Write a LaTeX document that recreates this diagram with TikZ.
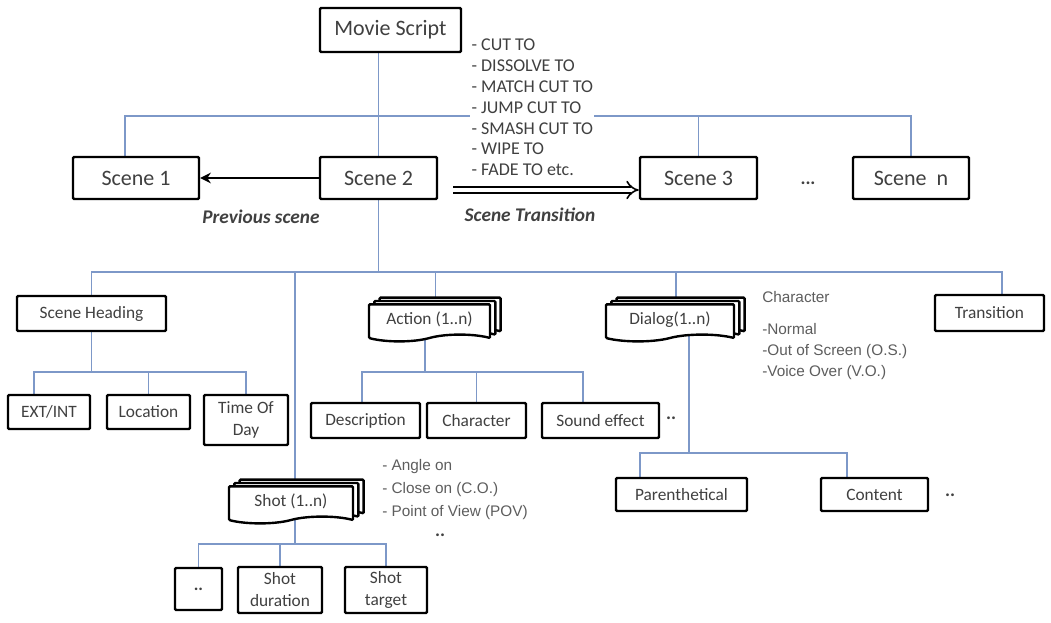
\documentclass[tikz,border=0pt]{standalone}
\usepackage{fontspec}
\setmainfont{Carlito}
\newfontfamily\arialfont{Liberation Sans}
\usetikzlibrary{arrows.meta,shapes.symbols,shadows,backgrounds}
\definecolor{lnkc}{RGB}{125,152,200}
\definecolor{txt}{RGB}{64,64,64}
\tikzset{
  bx/.style={rectangle,draw=black,fill=white,line width=1.8pt,rounded corners=.8pt,text=txt,
    font=\fontsize{13}{16.5}\selectfont,inner sep=2pt,align=center},
  bxl/.style={bx,font=\fontsize{16.5}{19}\selectfont},
  % a stack of cards: the front one has a wavy lower edge
  stk/.style={bx,shape=tape,tape bend top=none,tape bend bottom=in and out,tape bend height=5pt,
    double copy shadow={shadow xshift=4pt,shadow yshift=2.5pt}},
  lnk/.style={draw=lnkc,line width=.9pt},
  bck/.style={-{Stealth[length=8pt,width=8pt]},line width=1.5pt,draw=black},
  trn/.style={draw=black,double=white,double distance=3.6pt,line width=1.2pt,-{Implies}},
  cl/.style={font=\fontsize{13.5}{15.6}\selectfont,text=txt,align=left,inner sep=1pt},
  al/.style={font=\arialfont\fontsize{11.5}{15.75}\selectfont,text=txt!85,align=left,inner sep=0pt},
  tb/.style={font=\fontsize{14.5}{17}\selectfont\bfseries\itshape,text=txt},
  dt/.style={font=\fontsize{14}{15}\selectfont\bfseries,text=txt},
}

\begin{document}
\begin{tikzpicture}[x=.75pt,y=-.75pt]
\useasboundingbox (0,0) rectangle (1051,623);
% ---- script and scenes
\node[bxl,minimum width=105.75pt,minimum height=33pt] (ms) at (390.5,30) {Movie Script};
\node[bxl,minimum width=94.5pt,minimum height=31.5pt] (s1) at (136,178) {Scene 1};
\node[bxl,minimum width=87.75pt,minimum height=31.5pt] (s2) at (378.5,178) {Scene 2};
\node[bxl,minimum width=87.75pt,minimum height=31.5pt] (s3) at (698.5,178) {Scene 3};
\node[bxl,minimum width=87pt,minimum height=31.5pt] (sn) at (911,178) {Scene~~n};
\node[dt] (sdots) at (808,183) {...};
\node[cl,fill=white,anchor=west] (cuts) at (470,107.5)
  {- CUT TO\\- DISSOLVE TO\\- MATCH CUT TO\\- JUMP CUT TO\\- SMASH CUT TO\\- WIPE TO\\- FADE TO etc.};
\node[tb] (prv) at (261,217) {Previous scene};
\node[tb] (stl) at (530,215) {Scene Transition};
\draw[bck] (s2) -- (s1);
\draw[trn] ([xshift=11.25pt,yshift=-9pt]s2.east) -- ([yshift=-9pt]s3.west);
% ---- parts of a scene
\node[bx,minimum width=111.75pt,minimum height=26.25pt] (sh) at (91.5,313.5) {Scene Heading};
\node[stk,minimum width=90.75pt,minimum height=27.75pt] (act) at (429.5,319.5) {Action (1..n)};
\node[stk,minimum width=96pt,minimum height=27.75pt] (dlg) at (670,319.5) {Dialog(1..n)};
\node[bx,minimum width=81.75pt,minimum height=27pt] (tr) at (989.5,313) {Transition};
\node[al,anchor=north west] (chr) at (762,291) {Character\\[8pt]-Normal\\-Out of Screen (O.S.)\\-Voice Over (V.O.)};
% ---- heading, action
\node[bx,minimum width=61.5pt,minimum height=25.5pt] (ext) at (49,412) {EXT/INT};
\node[bx,minimum width=62.25pt,minimum height=25.5pt] (loc) at (148.5,412) {Location};
\node[bx,minimum width=63pt,minimum height=37.5pt] (tod) at (246,420) {Time Of\\Day};
\node[bx,minimum width=81.75pt,minimum height=26.25pt] (desc) at (365.5,420.5) {Description};
\node[bx,minimum width=74.25pt,minimum height=26.25pt] (chb) at (476.5,420.5) {Character};
\node[bx,minimum width=87.75pt,minimum height=26.25pt] (snd) at (600.5,420.5) {Sound effect};
\node[dt] (adots) at (671,418) {..};
% ---- shots
\node[stk,minimum width=93pt,minimum height=27.75pt] (shot) at (291,501.5) {Shot (1..n)};
\node[al,anchor=north west,font=\arialfont\fontsize{11.5}{17.25}\selectfont] (ang) at (382,459)
  {- Angle on\\- Close on (C.O.)\\- Point of View (POV)};
\node[dt] (shdots) at (440,535) {..};
\node[bx,minimum width=35.25pt,minimum height=31.5pt] (sd1) at (198.5,589) {\textbf{..}};
\node[bx,minimum width=63pt,minimum height=34.5pt] (sdur) at (280,590) {Shot\\duration};
\node[bx,minimum width=61.5pt,minimum height=34.5pt] (stgt) at (386,590) {Shot\\target};
% ---- dialog
\node[bx,minimum width=98.25pt,minimum height=24.75pt] (par) at (681.5,494.5) {Parenthetical};
\node[bx,minimum width=80.25pt,minimum height=24.75pt] (cnt) at (874.5,494.5) {Content};
\node[dt] (cdots) at (950,495) {..};

\begin{scope}[on background layer]
  \coordinate (busA) at (0,116); \coordinate (busB) at (0,272);
  \coordinate (busC) at (0,372); \coordinate (busD) at (0,544); \coordinate (busE) at (0,453);
  \draw[lnk] (ms.south -| s2) -- (s2.north);
  \draw[lnk] ([xshift=-8.25pt]s1.north) |- (busA -| sn) -- (sn.north);
  \draw[lnk] (s3.north) -- (s3.north |- busA);
  \draw[lnk] (s2.south) -- (s2.south |- busB);
  \coordinate (trT) at ([xshift=9.4pt]tr.north);
  \coordinate (actT) at ([xshift=4.5pt]act.north);
  \coordinate (dlgT) at ([xshift=4.5pt]dlg.north);
  \coordinate (shotT) at ([xshift=3pt]shot.north);
  \draw[lnk] (sh.north) |- (busB -| trT) -- (trT);
  \draw[lnk] (actT) -- (actT |- busB) (dlgT) -- (dlgT |- busB) (shotT) -- (shotT |- busB);
  % heading
  \draw[lnk] (sh.south) -- (sh.south |- busC);
  \draw[lnk] ([xshift=-11.25pt]ext.north) |- (busC -| tod.north) -- (tod.north);
  \draw[lnk] (loc.north) -- (loc.north |- busC);
  % action
  \coordinate (actB) at ([xshift=-3.4pt]act.south);
  \coordinate (sndT) at ([xshift=-13.1pt]snd.north);
  \draw[lnk] (actB) -- (actB |- busC);
  \draw[lnk] ([xshift=-2.6pt]desc.north) |- (busC -| sndT) -- (sndT);
  \draw[lnk] (chb.north) -- (chb.north |- busC);
  % shot
  \coordinate (shotB) at ([xshift=3pt]shot.south);
  \draw[lnk] (shotB) -- (shotB |- busD);
  \draw[lnk] (sd1.north) |- (busD -| stgt.north) -- (stgt.north);
  \draw[lnk] (sdur.north) -- (sdur.north |- busD);
  % dialog
  \coordinate (dlgB) at ([xshift=14.25pt]dlg.south);
  \coordinate (parT) at ([xshift=-31.1pt]par.north);
  \coordinate (cntT) at ([xshift=-20.6pt]cnt.north);
  \draw[lnk] (dlgB) -- (dlgB |- busE);
  \draw[lnk] (parT) |- (busE -| cntT) -- (cntT);
\end{scope}
\end{tikzpicture}
\end{document}
